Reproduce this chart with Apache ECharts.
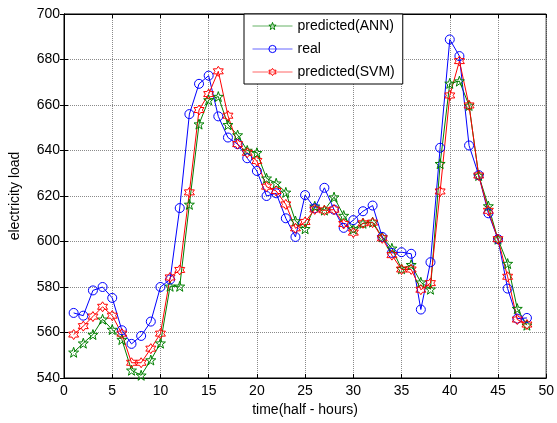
<!DOCTYPE html>
<html>
<head>
<meta charset="utf-8">
<script src="https://cdn.jsdelivr.net/npm/echarts@6/dist/echarts.min.js"></script>
<style>
html,body{margin:0;padding:0;background:#fff;}
#chart{width:557px;height:423px;}
</style>
</head>
<body>
<div id="chart"></div>
<script>
var seriesNames = ['predicted(ANN)', 'real', 'predicted(SVM)'];
var annValues = [551.3,555.3,559.1,565.8,561.3,556.9,543.4,541.2,547.9,555.3,
  580.3,580.3,616.3,651.6,662.2,663.7,651.3,646.8,640,639,
  627.8,625.6,621.6,609,605.6,615.5,613.8,619.5,611.4,605.5,
  608,608.5,602,597,588,589.8,582.1,579,634.2,669.5,
  670.5,659.8,629,615.6,601,590.3,570.5,563.2];
var realValues = [568.6,567.4,578.5,580,575.2,561,555,558.5,564.8,580,
  583.3,614.7,656,669.3,672.9,655,645.7,642.8,636.6,631,
  620,621.2,610.2,602,620.4,614.6,623.6,614,606,609.4,
  613.3,615.8,602,595,595.3,594.6,570.1,590.9,641.2,688.8,
  681.5,642.2,629.2,612.4,601,579.3,566.1,566.4];
var svmValues = [559.1,562.8,567,571.3,567.4,559.5,546.7,546.7,552.9,559.5,
  584.2,587.5,621.6,657.8,664.8,674.8,655.3,642.8,639,635.4,
  624.1,622.2,616.3,605.8,608.6,614.1,613.7,614,607.7,603.9,
  608,608.3,601.4,594,587.7,587.7,578.8,581.7,622,664.2,
  679.3,659.8,629,613.5,601,584.5,565.7,563.5];
var xTicks = [0,5,10,15,20,25,30,35,40,45,50];
var yTicks = [540,560,580,600,620,640,660,680,700];

function toPairs(vals){ return vals.map(function(v,i){ return [i+1, v]; }); }

var pentagram = 'path://M0,-10 L2.35,-3.24 L9.51,-3.09 L3.8,1.24 L5.88,8.09 L0,4 L-5.88,8.09 L-3.8,1.24 L-9.51,-3.09 L-2.35,-3.24 Z';
var hexagram = 'path://M0,-10 L2.887,-5 L8.66,-5 L5.77,0 L8.66,5 L2.887,5 L0,10 L-2.887,5 L-8.66,5 L-5.77,0 L-8.66,-5 L-2.887,-5 Z';

var FONT = 'Liberation Sans, Arial, sans-serif';
var chart = echarts.init(document.getElementById('chart'), null, {renderer:'canvas'});

function mkSeries(name, vals, color, symbol, size){
  return {
    name: name, type: 'line', data: toPairs(vals),
    xAxisIndex: 0, yAxisIndex: 0,
    symbol: symbol, symbolSize: size, showAllSymbol: true,
    lineStyle: {color: color, width: 1},
    itemStyle: {color: 'rgba(255,255,255,0)', borderColor: color, borderWidth: 1},
    emphasis: {disabled: true},
    animation: false, z: 3
  };
}

var option = {
  animation: false,
  backgroundColor: '#fff',
  grid: {left: 60, right: 10, top: 14, bottom: 45, show: true, borderColor: '#000', borderWidth: 1, backgroundColor: '#fff'},
  legend: {
    orient: 'vertical', left: 244, top: 14,
    data: seriesNames,
    backgroundColor: '#fff', borderColor: '#000', borderWidth: 1,
    padding: [5, 8, 5, 8], itemWidth: 40, itemHeight: 9, itemGap: 9,
    itemStyle: {color: 'rgba(255,255,255,0)', borderWidth: 1},
    lineStyle: {width: 1, opacity: 0.6},
    textStyle: {fontFamily: FONT, fontSize: 14, color: '#000'},
    z: 10
  },
  xAxis: [{
    type: 'value', min: 0, max: 50, interval: 5, position: 'bottom',
    name: 'time(half - hours)', nameLocation: 'middle', nameGap: 25,
    nameTextStyle: {fontFamily: FONT, fontSize: 14, color: '#000'},
    axisLine: {lineStyle: {color: '#000', width: 1}},
    axisTick: {inside: true, length: 4, lineStyle: {color: '#000'}},
    axisLabel: {fontFamily: FONT, fontSize: 14, color: '#000', margin: 6},
    splitLine: {show: true, lineStyle: {color: '#8a8a8a', type: [1,1], width: 1}}
  },{
    type: 'value', min: 0, max: 50, interval: 5, position: 'top',
    axisLine: {lineStyle: {color: '#000'}},
    axisTick: {inside: true, length: 4, lineStyle: {color: '#000'}},
    axisLabel: {show: false}, splitLine: {show: false}
  }],
  yAxis: [{
    type: 'value', min: 540, max: 700, interval: 20, position: 'left',
    name: 'electricity load', nameLocation: 'middle', nameGap: 42,
    nameTextStyle: {fontFamily: FONT, fontSize: 14, color: '#000'},
    axisLine: {show: true, lineStyle: {color: '#000', width: 1}},
    axisTick: {show: true, inside: true, length: 4, lineStyle: {color: '#000'}},
    axisLabel: {fontFamily: FONT, fontSize: 14, color: '#000', margin: 4},
    splitLine: {show: true, lineStyle: {color: '#8a8a8a', type: [1,1], width: 1}}
  },{
    type: 'value', min: 540, max: 700, interval: 20, position: 'right',
    axisLine: {show: true, lineStyle: {color: '#000'}},
    axisTick: {show: true, inside: true, length: 4, lineStyle: {color: '#000'}},
    axisLabel: {show: false}, splitLine: {show: false}
  }],
  series: [
    mkSeries(seriesNames[0], annValues, '#008000', pentagram, 10),
    mkSeries(seriesNames[1], realValues, '#0000ff', 'circle', 9),
    mkSeries(seriesNames[2], svmValues, '#ff0000', hexagram, 10)
  ]
};
chart.setOption(option);
</script>
</body>
</html>
